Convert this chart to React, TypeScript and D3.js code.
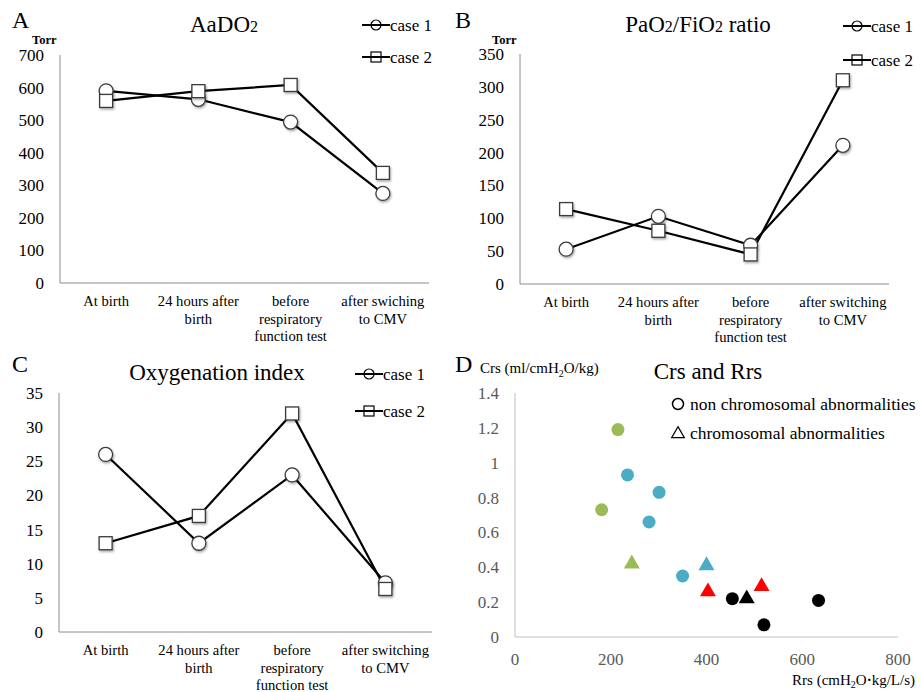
import React from "react";
import * as d3 from "d3";

// ---------- data ----------
const categoriesA = [["At birth"], ["24 hours after", "birth"], ["before", "respiratory", "function test"], ["after swiching", "to CMV"]];
const categoriesBC = [["At birth"], ["24 hours after", "birth"], ["before", "respiratory", "function test"], ["after switching", "to CMV"]];

const aado2Case1 = [590, 564, 494, 275];
const aado2Case2 = [559, 589, 608, 338];
const aado2Ticks = [0, 100, 200, 300, 400, 500, 600, 700];

const pfCase1 = [53, 103, 59, 211];
const pfCase2 = [114, 81, 45, 310];
const pfTicks = [0, 50, 100, 150, 200, 250, 300, 350];

const oiCase1 = [26, 13, 23, 7.2];
const oiCase2 = [13, 17, 32, 6.3];
const oiTicks = [0, 5, 10, 15, 20, 25, 30, 35];

const seriesNames = ["case 1", "case 2"];

const scatterRrs = [215, 181, 235, 301, 280, 350, 454, 520, 634, 244, 400, 403, 484, 515];
const scatterCrs = [1.19, 0.73, 0.93, 0.83, 0.66, 0.35, 0.22, 0.07, 0.21, 0.42, 0.41, 0.26, 0.22, 0.29];
const scatterShape = ["circle", "circle", "circle", "circle", "circle", "circle", "circle", "circle", "circle", "triangle", "triangle", "triangle", "triangle", "triangle"];
const scatterGroup = ["green", "green", "blue", "blue", "blue", "blue", "black", "black", "black", "green", "blue", "red", "black", "red"];
const groupColors: Record<string, string> = { green: "#9BBB59", blue: "#4BACC6", red: "#FF0000", black: "#000000" };
const scatterXTicks = [0, 200, 400, 600, 800];
const scatterYTicks = [0, 0.2, 0.4, 0.6, 0.8, 1, 1.2, 1.4];
const scatterLegend = ["non chromosomal abnormalities", "chromosomal abnormalities"];

const FONT = "'Liberation Serif', 'Times New Roman', serif";

type LineProps = {
  x0: number; x1: number; yTop: number; yBot: number;
  yMax: number; ticks: number[]; cats: string[][];
  s1: number[]; s2: number[];
  legendLineX0: number; legendY1: number; legendY2: number;
};

function Marker({ kind, x, y, size }: { kind: string; x: number; y: number; size: number }) {
  if (kind === "circle")
    return <circle cx={x} cy={y} r={size} fill="#fff" stroke="#3a3a3a" strokeWidth={1.3} />;
  return <rect x={x - size} y={y - size} width={size * 2} height={size * 2} fill="#fff" stroke="#3a3a3a" strokeWidth={1.3} />;
}

function LineChart(p: LineProps) {
  const x = d3.scalePoint<number>().domain([0, 1, 2, 3]).range([p.x0, p.x1]).padding(0.5);
  const y = d3.scaleLinear().domain([0, p.yMax]).range([p.yBot, p.yTop]);
  const line = d3.line<number>().x((_, i) => x(i) as number).y((d) => y(d));
  const series = [p.s1, p.s2];
  const kinds = ["circle", "square"];
  return (
    <g fontFamily={FONT}>
      <line x1={p.x0} x2={p.x0} y1={p.yTop} y2={p.yBot} stroke="#8c8c8c" strokeWidth={1} />
      <line x1={p.x0} x2={p.x1} y1={p.yBot} y2={p.yBot} stroke="#8c8c8c" strokeWidth={1} />
      {p.ticks.map((t) => (
        <text key={t} x={p.x0 - 16} y={y(t)} dy="0.35em" textAnchor="end" fontSize={17} fill="#000">{t}</text>
      ))}
      {p.cats.map((lines, i) => (
        <text key={i} x={x(i)} y={p.yBot + 23} textAnchor="middle" fontSize={14.6} fill="#000">
          {lines.map((l, j) => (
            <tspan key={j} x={x(i)} dy={j === 0 ? 0 : 17.5}>{l}</tspan>
          ))}
        </text>
      ))}
      {series.map((s, k) => (
        <path key={k} d={line(s) || ""} fill="none" stroke="#000" strokeWidth={2.2} />
      ))}
      {series.map((s, k) => (
        <g key={"m" + k} filter="url(#shadow)">
          {s.map((v, i) => (
            <Marker key={i} kind={kinds[k]} x={x(i) as number} y={y(v)} size={kinds[k] === "circle" ? 7 : 6.5} />
          ))}
        </g>
      ))}
      {[p.legendY1, p.legendY2].map((ly, k) => (
        <g key={"l" + k}>
          <line x1={p.legendLineX0} x2={p.legendLineX0 + 28} y1={ly} y2={ly} stroke="#000" strokeWidth={2} />
          {kinds[k] === "circle" ? (
            <circle cx={p.legendLineX0 + 14} cy={ly} r={5} fill="none" stroke="#000" strokeWidth={1.2} />
          ) : (
            <rect x={p.legendLineX0 + 9} y={ly - 5} width={10} height={10} fill="none" stroke="#000" strokeWidth={1.2} />
          )}
          <text x={p.legendLineX0 + 28} y={ly + 6} fontSize={17}>{seriesNames[k]}</text>
        </g>
      ))}
    </g>
  );
}

function Scatter() {
  const x0 = 515, x1 = 898, yTop = 393, yBot = 637;
  const x = d3.scaleLinear().domain([0, 800]).range([x0, x1]);
  const y = d3.scaleLinear().domain([0, 1.4]).range([yBot, yTop]);
  const tri = d3.symbol().type(d3.symbolTriangle).size(110);
  return (
    <g fontFamily={FONT}>
      <line x1={x0} x2={x0} y1={yTop} y2={yBot} stroke="#bfbfbf" strokeWidth={1} />
      <line x1={x0} x2={x1} y1={yBot} y2={yBot} stroke="#bfbfbf" strokeWidth={1} />
      {scatterYTicks.map((t) => (
        <text key={t} x={499} y={y(t)} dy="0.35em" textAnchor="end" fontSize={17} fill="#595959">{t}</text>
      ))}
      {scatterXTicks.map((t) => (
        <text key={t} x={x(t)} y={665} textAnchor="middle" fontSize={17} fill="#595959">{t}</text>
      ))}
      {scatterRrs.map((r, i) =>
        scatterShape[i] === "circle" ? (
          <circle key={i} cx={x(r)} cy={y(scatterCrs[i])} r={6.5} fill={groupColors[scatterGroup[i]]} />
        ) : (
          <path key={i} d={tri() || ""} transform={`translate(${x(r)},${y(scatterCrs[i])})`} fill={groupColors[scatterGroup[i]]} />
        )
      )}
      <text x={480} y={373} fontSize={15}>
        Crs (ml/cmH<tspan fontSize={10} dy={4}>2</tspan><tspan dy={-4}>O/kg)</tspan>
      </text>
      <text x={708} y={379} textAnchor="middle" fontSize={23}>Crs and Rrs</text>
      <circle cx={678} cy={404} r={5.5} fill="none" stroke="#000" strokeWidth={1.5} />
      <text x={690} y={410} fontSize={17.5}>{scatterLegend[0]}</text>
      <path d={d3.symbol().type(d3.symbolTriangle).size(70)() || ""} transform="translate(678,434)" fill="none" stroke="#000" strokeWidth={1.2} />
      <text x={690} y={439} fontSize={17.5}>{scatterLegend[1]}</text>
      <text x={915} y={685} textAnchor="end" fontSize={15}>
        Rrs (cmH<tspan fontSize={10} dy={3}>2</tspan><tspan dy={-3}>O</tspan><tspan fontWeight="bold">·</tspan>kg/L/s)
      </text>
    </g>
  );
}

export default function App() {
  return (
    <svg width={922} height={692} style={{ position: "absolute", left: 0, top: 0, background: "#fff" }} fontFamily={FONT}>
      <defs>
        <filter id="shadow" x="-50%" y="-50%" width="200%" height="200%">
          <feDropShadow dx={1} dy={1.5} stdDeviation={1.2} floodColor="#000" floodOpacity={0.35} />
        </filter>
      </defs>
      <rect width={922} height={692} fill="#fff" />
      {/* Panel A */}
      <text x={12} y={28} fontSize={24}>A</text>
      <text x={32} y={44} fontSize={12.5} fontWeight="bold">Torr</text>
      <text x={224} y={32} textAnchor="middle" fontSize={23}>AaDO<tspan fontSize={16}>2</tspan></text>
      <LineChart x0={60} x1={429} yTop={55} yBot={283} yMax={700} ticks={aado2Ticks} cats={categoriesA}
        s1={aado2Case1} s2={aado2Case2} legendLineX0={362} legendY1={25} legendY2={57} />
      {/* Panel B */}
      <text x={455} y={28} fontSize={24}>B</text>
      <text x={492} y={44} fontSize={12.5} fontWeight="bold">Torr</text>
      <text x={698} y={32} textAnchor="middle" fontSize={23}>PaO<tspan fontSize={16}>2</tspan>/FiO<tspan fontSize={16}>2</tspan> ratio</text>
      <LineChart x0={520} x1={889} yTop={54} yBot={284} yMax={350} ticks={pfTicks} cats={categoriesBC}
        s1={pfCase1} s2={pfCase2} legendLineX0={843} legendY1={26} legendY2={60} />
      {/* Panel C */}
      <text x={12} y={372} fontSize={24}>C</text>
      <text x={217} y={380} textAnchor="middle" fontSize={23}>Oxygenation index</text>
      <LineChart x0={59} x1={432} yTop={393} yBot={632} yMax={35} ticks={oiTicks} cats={categoriesBC}
        s1={oiCase1} s2={oiCase2} legendLineX0={355} legendY1={374} legendY2={411} />
      {/* Panel D */}
      <text x={455} y={372} fontSize={24}>D</text>
      <Scatter />
    </svg>
  );
}
